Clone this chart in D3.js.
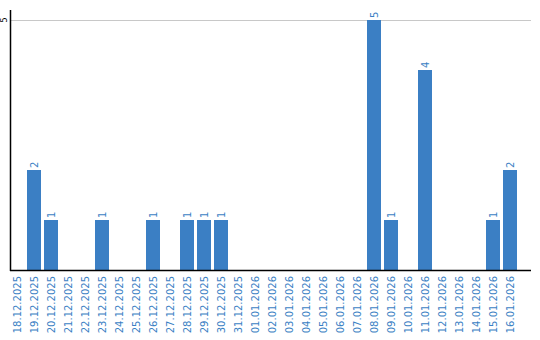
<!DOCTYPE html>
<html>
<head>
<meta charset="utf-8">
<script src="https://cdn.jsdelivr.net/npm/d3@7"></script>
<style>
  body { margin: 0; background: #fff; }
  text { font-family: "DejaVu Sans", sans-serif; }
</style>
</head>
<body>
<svg id="chart" width="540" height="340"></svg>
<script>
var dates = ["18.12.2025","19.12.2025","20.12.2025","21.12.2025","22.12.2025","23.12.2025",
  "24.12.2025","25.12.2025","26.12.2025","27.12.2025","28.12.2025","29.12.2025","30.12.2025",
  "31.12.2025","01.01.2026","02.01.2026","03.01.2026","04.01.2026","05.01.2026","06.01.2026",
  "07.01.2026","08.01.2026","09.01.2026","10.01.2026","11.01.2026","12.01.2026","13.01.2026",
  "14.01.2026","15.01.2026","16.01.2026"];
var counts = [0,2,1,0,0,1,0,0,1,0,1,1,1,0,0,0,0,0,0,0,0,5,1,0,4,0,0,0,1,2];
var yTicks = [5];

var blue = "#3b7fc4";
var plotL = 10, plotR = 531, plotT = 20, plotB = 270;

var svg = d3.select("#chart");

// bars stop a bit short of the right end of the plot
var x = d3.scaleBand()
  .domain(dates)
  .range([plotL, 517])
  .paddingInner(3 / 17)
  .paddingOuter(0);

var y = d3.scaleLinear()
  .domain([0, 5])
  .range([plotB, plotT]);

// grid line
svg.selectAll(".grid")
  .data(yTicks)
  .enter().append("line")
  .attr("x1", plotL).attr("x2", plotR)
  .attr("y1", function(d) { return y(d) + 0.5; })
  .attr("y2", function(d) { return y(d) + 0.5; })
  .attr("stroke", "#c8c8c8");

// bars
svg.selectAll(".bar")
  .data(dates)
  .enter().append("rect")
  .attr("x", function(d) { return Math.round(x(d)); })
  .attr("y", function(d, i) { return y(counts[i]); })
  .attr("width", Math.round(x.bandwidth()))
  .attr("height", function(d, i) { return plotB - y(counts[i]); })
  .attr("fill", blue);

// value labels
svg.selectAll(".val")
  .data(dates.filter(function(d, i) { return counts[i] > 0; }))
  .enter().append("text")
  .attr("transform", function(d) {
    var v = counts[dates.indexOf(d)];
    return "translate(" + (x(d) + x.bandwidth() / 2 + 4) + "," + (y(v) - 2) + ") rotate(-90)";
  })
  .attr("fill", blue)
  .style("font-size", "10px")
  .text(function(d) { return counts[dates.indexOf(d)]; });

// x labels
svg.selectAll(".xl")
  .data(dates)
  .enter().append("text")
  .attr("transform", function(d) {
    return "translate(" + (x(d) + x.bandwidth() / 2 + 4) + "," + (plotB + 6) + ") rotate(-90)";
  })
  .attr("text-anchor", "end")
  .attr("fill", blue)
  .style("font-size", "10px")
  .text(function(d) { return d; });

// y tick label
svg.selectAll(".yl")
  .data(yTicks)
  .enter().append("text")
  .attr("transform", function(d) { return "translate(7," + y(d) + ") rotate(-90)"; })
  .attr("text-anchor", "middle")
  .attr("fill", "#000")
  .style("font-size", "8px")
  .text(function(d) { return d; });

// axes lines
svg.append("line")
  .attr("x1", plotL + 0.5).attr("x2", plotL + 0.5)
  .attr("y1", 10).attr("y2", plotB + 1)
  .attr("stroke", "#000").attr("stroke-width", 1.5);
svg.append("line")
  .attr("x1", plotL).attr("x2", plotR)
  .attr("y1", plotB + 0.5).attr("y2", plotB + 0.5)
  .attr("stroke", "#000").attr("stroke-width", 1.5);
</script>
</body>
</html>
